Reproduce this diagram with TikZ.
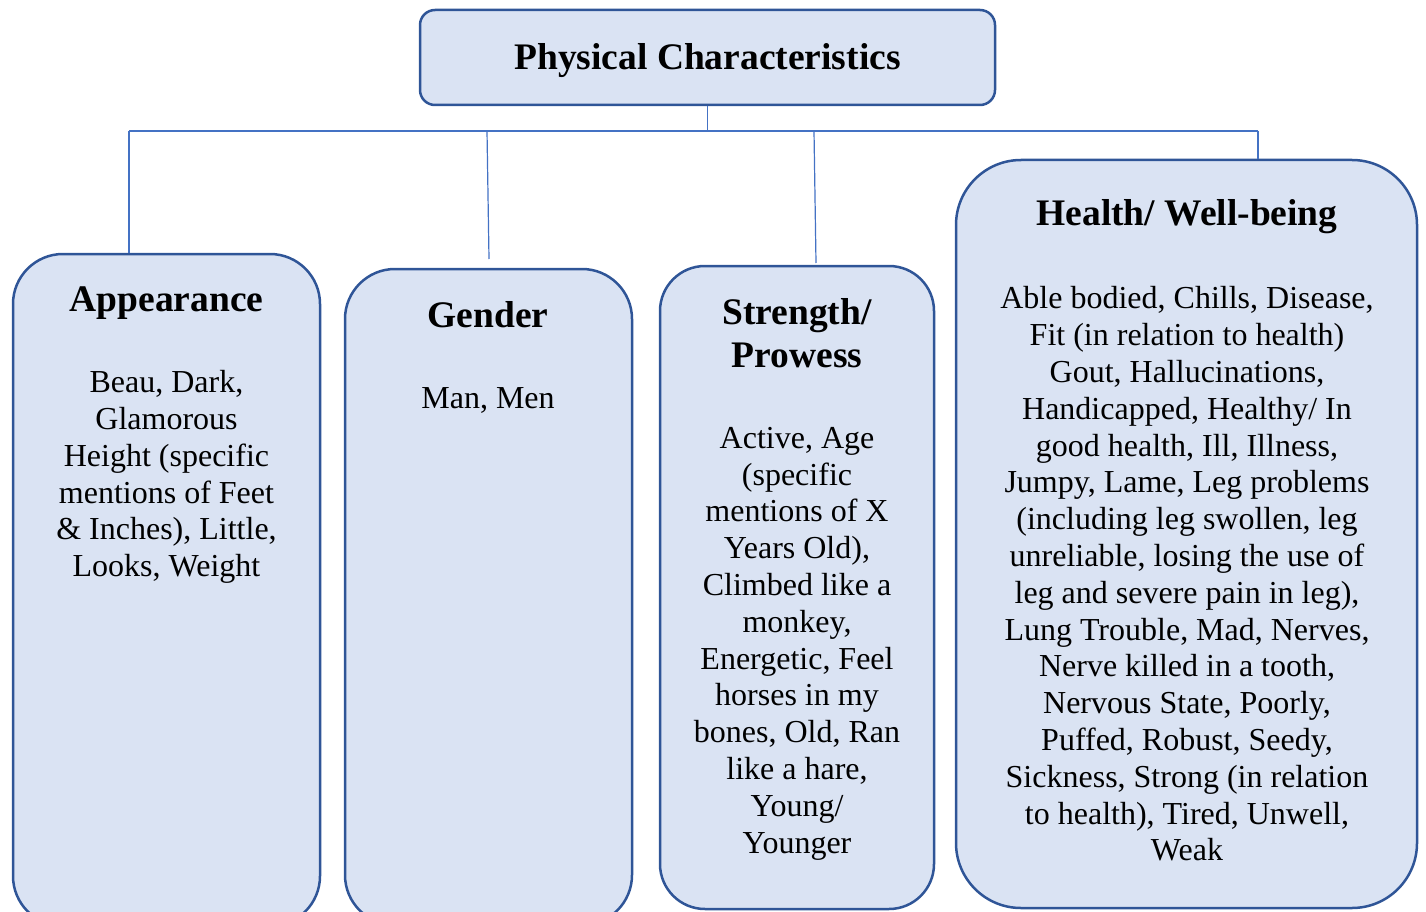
\documentclass[tikz,border=0pt]{standalone}
\usepackage{fontspec}
\setmainfont{Liberation Serif}
\definecolor{boxfill}{HTML}{DAE3F3}
\definecolor{boxline}{HTML}{2F5597}
\definecolor{connline}{HTML}{4472C4}
\begin{document}
\begin{tikzpicture}[x=1pt,y=1pt,
  box/.style={draw=boxline, fill=boxfill, line width=2.5pt, inner sep=0pt},
  conn/.style={draw=connline, line width=1.2pt},
  head/.style={font=\fontsize{37.5}{42.5}\selectfont\bfseries, align=center, inner sep=0pt},
  body/.style={font=\fontsize{32}{36.8}\selectfont, align=center, inner sep=0pt}]
\useasboundingbox (0,0) rectangle (1426,-912);
\clip (0,0) rectangle (1426,-912);
% boxes
\node[box, rounded corners=15pt, minimum width=575pt, minimum height=95pt] (top) at (707.5,-57.5) {};
\node[box, rounded corners=50pt, minimum width=307pt, minimum height=672pt] (app) at (166.5,-590) {};
\node[box, rounded corners=50pt, minimum width=287pt, minimum height=656pt] (gen) at (488.5,-597) {};
\node[box, rounded corners=45pt, minimum width=274pt, minimum height=643pt] (str) at (797,-587.5) {};
\node[box, rounded corners=65pt, minimum width=461pt, minimum height=748pt] (hea) at (1186.5,-534) {};
% texts
\node[head] (toptxt) at (707.5,-61) {Physical Characteristics};
\node[head] (apph) at (166.5,-303) {Appearance};
\node[body] (appb) at (166.5,-477) {Beau, Dark,\\ Glamorous\\ Height (specific\\ mentions of Feet\\ \& Inches), Little,\\ Looks, Weight};
\node[head] (genh) at (488,-315) {Gender};
\node[body] (genb) at (488,-400) {Man, Men};
\node[head] (strh) at (797,-333) {Strength/\\ Prowess};
\node[body] (strb) at (797,-643.5) {Active, Age\\ (specific\\ mentions of X\\ Years Old),\\ Climbed like a\\ monkey,\\ Energetic, Feel\\ horses in my\\ bones, Old, Ran\\ like a hare,\\ Young/\\ Younger};
\node[head] (heah) at (1187,-217) {Health/ Well-being};
\node[body] (heab) at (1187,-574) {Able bodied, Chills, Disease,\\ Fit (in relation to health)\\ Gout, Hallucinations,\\ Handicapped, Healthy/ In\\ good health, Ill, Illness,\\ Jumpy, Lame, Leg problems\\ (including leg swollen, leg\\ unreliable, losing the use of\\ leg and severe pain in leg),\\ Lung Trouble, Mad, Nerves,\\ Nerve killed in a tooth,\\ Nervous State, Poorly,\\ Puffed, Robust, Seedy,\\ Sickness, Strong (in relation\\ to health), Tired, Unwell,\\ Weak};
% connectors
\coordinate (b1) at (129,-131);
\coordinate (b4) at (1258,-131);
\coordinate (g1) at (487,-131);
\coordinate (g2) at (489,-259);
\coordinate (s1) at (814,-131);
\coordinate (s2) at (816,-263);
\draw[conn] (top.south) -- (top.south |- b1);
\draw[conn] (b1) -- (b4);
\draw[conn] (b1) -- (app.north -| b1);
\draw[conn] (g1) -- (g2);
\draw[conn] (s1) -- (s2);
\draw[conn] (b4) -- (hea.north -| b4);
\end{tikzpicture}
\end{document}
